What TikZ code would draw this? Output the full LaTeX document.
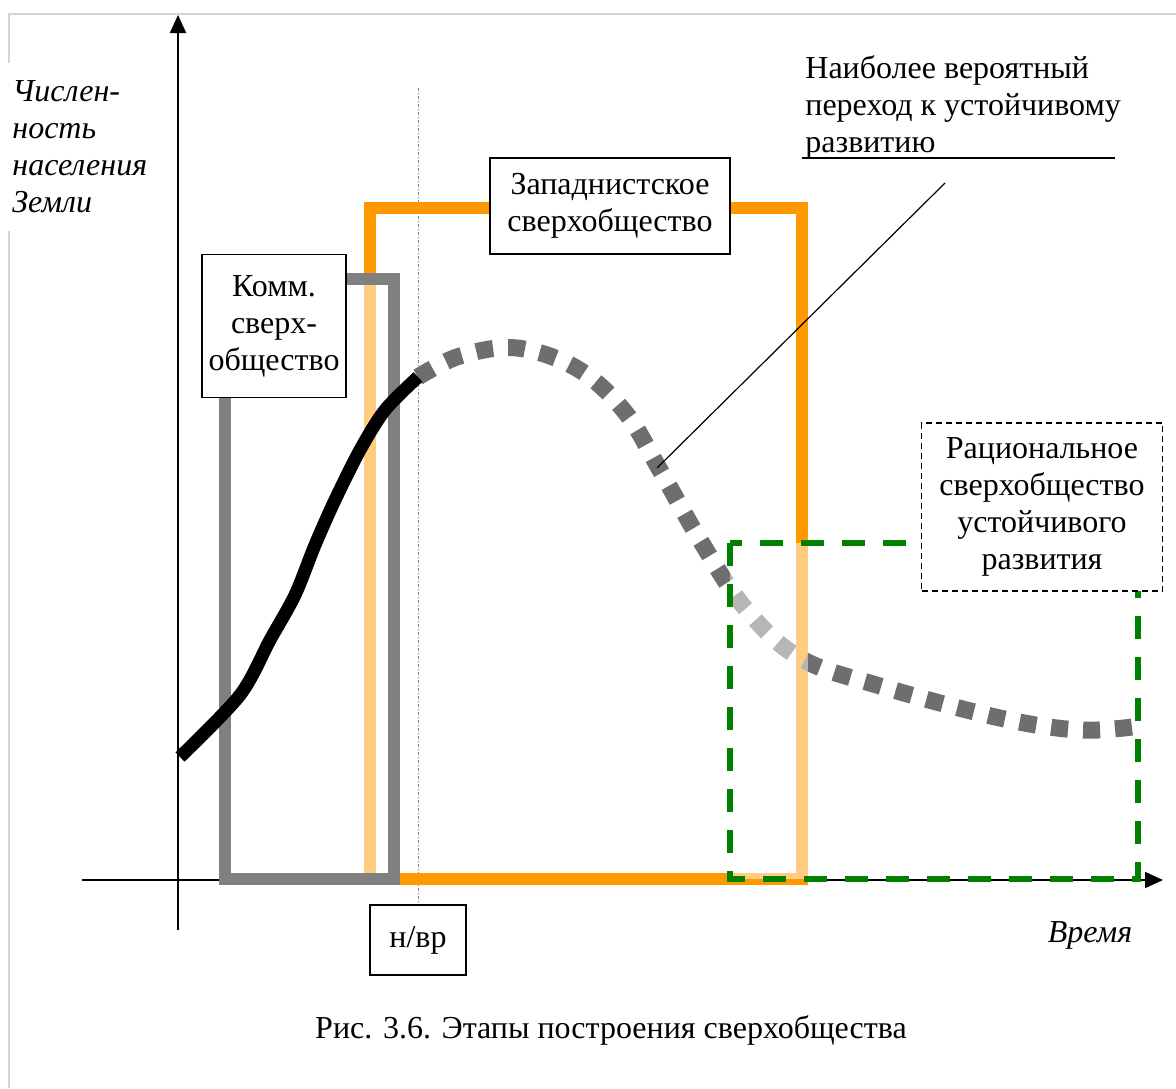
\documentclass[tikz,border=0pt]{standalone}
\usepackage{fontspec}
\setmainfont{Liberation Serif}
\usetikzlibrary{arrows.meta}

\definecolor{orng}{HTML}{FF9900}
\definecolor{dkgreen}{HTML}{008000}
\definecolor{dotgray}{HTML}{6E6E6E}
\definecolor{rectgray}{HTML}{808080}
\definecolor{framegray}{HTML}{D4D4D4}

\begin{document}
\begin{tikzpicture}[x=0.5pt, y=-0.5pt, font=\fontsize{16}{18.5}\selectfont,
  box/.style={draw, fill=white, line width=0.8pt, align=center, inner sep=0pt},
  axis/.style={line width=1pt, -{Triangle[width=8pt,length=9pt]}}]
\useasboundingbox (0,0) rectangle (1176,1088);

% frame
\draw[framegray, line width=0.6pt] (9,1088) -- (9,14) -- (1176,14);

% axes
\coordinate (ybot) at (178,930);
\coordinate (ytop) at (178,15);
\coordinate (xleft) at (82,880);
\coordinate (xright) at (1163,880);
\draw[axis] (ybot) -- (ytop);
\draw[axis] (xleft) -- (xright);

% now line
\draw[gray, line width=0.4pt, dash pattern=on 1.5pt off 1pt on 0.5pt off 1pt] (418,88) -- (418,905);

% stages
\draw[orng, line width=5.75pt] (370,208) rectangle (802,879);
\draw[rectgray, line width=6pt, fill=white, fill opacity=0.5] (225,279) rectangle (394,879);

\draw[dotgray, line width=8.5pt, dash pattern=on 8.5pt off 7.5pt]
  plot[smooth, tension=0.6] coordinates {(418,377) (460,356) (517,348) (578,369) (625,412) (660,470)
  (700,540) (745,608) (800,658) (880,686) (1000,718) (1080,730) (1140,726)};
\fill[white, fill opacity=0.5] (730,543) rectangle (808,879);

\draw[black, line width=6.5pt]
  plot[smooth, tension=0.5] coordinates {(180,757) (240,695) (270,640) (295,595) (315,545)
  (335,500) (360,450) (385,410) (418,377)};

\draw[dkgreen, line width=3.25pt, dash pattern=on 11.5pt off 9pt] (730,543) rectangle (1138,879);

% leader
\coordinate (tip) at (657,468);
\coordinate (lead) at (945,183);
\coordinate (ulstart) at (802,158);
\coordinate (ulend) at (1115,158);
\draw[line width=0.6pt] (tip) -- (lead);
\draw[line width=0.8pt] (ulstart) -- (ulend);

\draw
(610,206) node[box, minimum width=120pt, minimum height=48pt](west){Западнистское\\сверхобщество}
(274,326) node[box, minimum width=72pt, minimum height=71.5pt](komm){Комм.\\сверх-\\общество}
(1042,507) node[box, dash pattern=on 3pt off 2pt, minimum width=120.5pt, minimum height=84pt](ratio){Рациональное\\сверхобщество\\устойчивого\\развития}
(418,940) node[box, minimum width=48pt, minimum height=35pt](now){н/вр}
(805,107) node[anchor=west, align=left, inner sep=0pt](note){Наиболее вероятный\\переход к устойчивому\\развитию}
(6,147) node[anchor=west, align=left, fill=white, inner xsep=3pt, inner ysep=9pt, font=\fontsize{16}{18.5}\selectfont\itshape](ylab){Числен-\\ность\\населения\\Земли}
(1090,935) node[font=\fontsize{16}{18.5}\selectfont\itshape](xlab){Время}
(611,1030) node(cap){Рис. 3.6. Этапы построения сверхобщества};

\end{tikzpicture}
\end{document}
